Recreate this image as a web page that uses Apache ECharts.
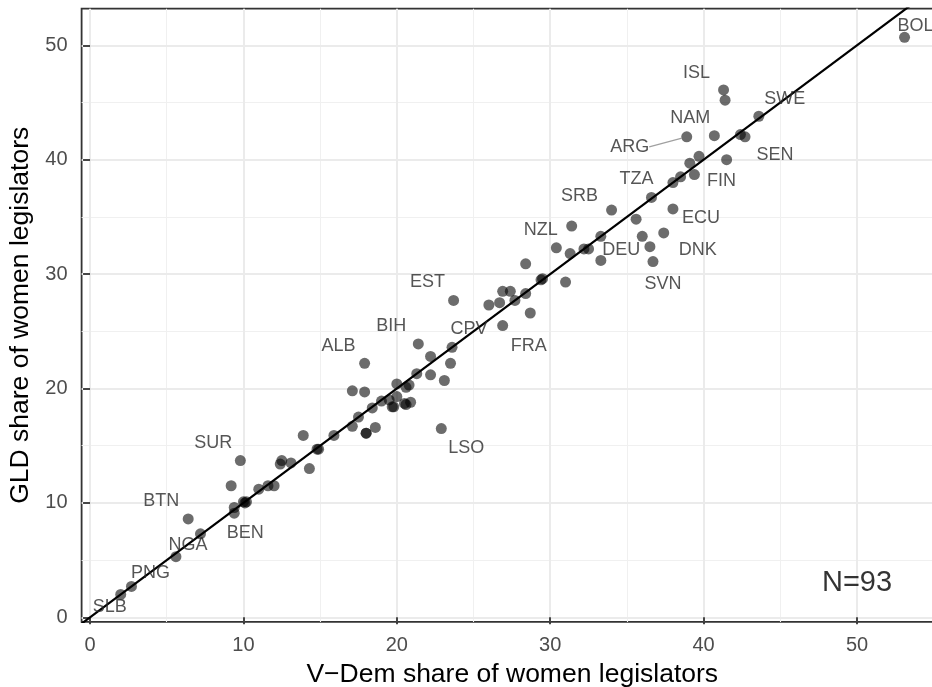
<!DOCTYPE html>
<html>
<head>
<meta charset="utf-8">
<script src="https://cdn.jsdelivr.net/npm/echarts@6/dist/echarts.min.js"></script>
<style>
  html, body { margin: 0; padding: 0; background: #fff; }
  #chart { width: 932px; height: 687px; }
</style>
</head>
<body>
<div id="chart"></div>
<script>
// V-Dem vs GLD share of women legislators
const vdem = [2.0, 2.7, 5.6, 6.4, 7.2, 9.2, 9.4, 9.4, 9.8, 10.0, 10.2, 10.1, 11.0, 11.6, 12.0, 12.4, 12.5, 13.1, 13.9, 14.3,
  14.8, 14.9, 15.9, 17.1, 17.5, 18.0, 18.0, 18.4, 18.6, 17.1, 17.9, 17.9, 19.0, 19.5, 19.7, 19.8, 20.0, 20.0, 20.6, 20.8,
  20.5, 20.6, 20.9, 21.3, 21.4, 22.2, 22.2, 23.1, 22.9, 23.5, 23.6, 23.7, 26.0, 26.7, 26.9, 26.9, 27.4, 27.7, 28.4, 28.7,
  28.4, 29.4, 29.5, 31.0, 30.4, 31.3, 31.4, 32.2, 32.5, 33.3, 33.3, 34.0, 35.6, 36.0, 36.5, 36.7, 37.4, 38.0, 36.6, 38.0,
  38.5, 39.1, 39.7, 39.4, 41.5, 38.9, 40.7, 41.3, 41.4, 43.6, 42.4, 42.7, 53.1]
const gld = [2.0, 2.7, 5.3, 8.6, 7.3, 11.5, 9.1, 9.6, 13.7, 10.1, 10.1, 10.0, 11.2, 11.5, 11.5, 13.4, 13.7, 13.5, 15.9, 13.0,
  14.7, 14.7, 15.9, 16.7, 17.5, 16.1, 16.1, 18.3, 16.6, 19.8, 19.7, 22.2, 18.9, 19.0, 18.4, 18.4, 20.4, 19.3, 20.1, 20.3,
  18.7, 18.6, 18.8, 21.3, 23.9, 22.8, 21.2, 20.7, 16.5, 22.2, 23.6, 27.7, 27.3, 27.5, 28.5, 25.5, 28.5, 27.7, 28.3, 26.6,
  30.9, 29.5, 29.6, 29.3, 32.3, 31.8, 34.2, 32.2, 32.2, 33.3, 31.2, 35.6, 34.8, 33.3, 32.4, 31.1, 33.6, 35.7, 36.7, 38.0,
  38.5, 39.7, 40.3, 38.7, 40.0, 42.0, 42.1, 46.1, 45.2, 43.8, 42.2, 42.0, 50.7]

// labelled countries and which point each belongs to
const labelCodes = ['SLB', 'PNG', 'NGA', 'BTN', 'BEN', 'SUR', 'ALB', 'BIH', 'LSO', 'CPV', 'EST', 'FRA', 'NZL',
  'SRB', 'DEU', 'SVN', 'DNK', 'ECU', 'TZA', 'FIN', 'ARG', 'NAM', 'ISL', 'SWE', 'SEN', 'BOL']
const labelIndex = [0, 1, 2, 3, 6, 8, 31, 44, 48, 50, 51, 55, 66, 71, 73, 75, 76, 77, 78, 84, 85, 86, 87, 89, 91, 92]

const majorTicks = [0, 10, 20, 30, 40, 50]
const minorTicks = [5, 15, 25, 35, 45, 55]

// axis limits (ggplot-style expansion)
const xMin = -0.55, xMax = 55.6
const yMin = -0.4, yMax = 53.2

// label nudges in px (repel-like placement)
const labelNudge = {
  SLB: [-11, 13], PNG: [19, -13], NGA: [12, -12], BTN: [-27, -18], BEN: [11, 20], SUR: [-27, -18],
  ALB: [-26, -17], BIH: [-27, -18], LSO: [25, 19], CPV: [17, -18], EST: [-26, -18], FRA: [26, 20],
  NZL: [-31, 4], SRB: [-32, -14], DEU: [-21, 14], SVN: [10, 23], DNK: [34, 17], ECU: [28, 9],
  TZA: [-15, -18], FIN: [-5, 21], ARG: [-57, 10], NAM: [-24, -18], ISL: [-27, -17], SWE: [26, -17],
  SEN: [30, 18], BOL: [11, -11]
}

const font = '"Liberation Sans", Arial, Helvetica, sans-serif'
const chart = echarts.init(document.getElementById('chart'))

const points = vdem.map((x, i) => [x, gld[i]])
const labelData = labelIndex.map((idx, k) => {
  const item = { value: points[idx], name: labelCodes[k] }
  if (labelCodes[k] === 'ARG') {
    item.labelLine = { show: true, lineStyle: { color: '#a0a0a0', width: 1.2 } }
  }
  return item
})

function gridLines(ticks) {
  return ticks.filter(v => v <= xMax).map(v => ({ xAxis: v }))
    .concat(ticks.filter(v => v <= yMax).map(v => ({ yAxis: v })))
}

const option = {
  animation: false,
  grid: {
    left: 81.6, right: -10.9, top: 8.7, bottom: 65.1,
    outerBoundsMode: 'none',
    show: true, borderColor: '#333', borderWidth: 1.8, backgroundColor: '#fff'
  },
  xAxis: {
    type: 'value', min: xMin, max: xMax,
    splitLine: { show: false },
    axisLine: { show: false },
    axisTick: { show: true, length: 7, customValues: majorTicks, lineStyle: { color: '#333', width: 1.8 } },
    axisLabel: { customValues: majorTicks, color: '#4d4d4d', fontSize: 20, margin: 14, fontFamily: font },
    name: 'V−Dem share of women legislators',
    nameLocation: 'middle', nameGap: 28,
    nameTextStyle: { fontSize: 26.5, color: '#000', fontFamily: font }
  },
  yAxis: {
    type: 'value', min: yMin, max: yMax,
    splitLine: { show: false },
    axisLine: { show: false },
    axisTick: { show: true, length: 7, customValues: majorTicks, lineStyle: { color: '#333', width: 1.8 } },
    axisLabel: { customValues: majorTicks, color: '#4d4d4d', fontSize: 20, margin: 14, fontFamily: font },
    name: 'GLD share of women legislators',
    nameLocation: 'middle', nameGap: 42,
    nameTextStyle: { fontSize: 26.5, color: '#000', fontFamily: font }
  },
  series: [
    {
      type: 'line', data: [], silent: true, z: 0,
      markLine: {
        silent: true, symbol: ['none', 'none'], label: { show: false }, z: 0,
        lineStyle: { color: '#f0f0f0', width: 1.1, type: 'solid' },
        data: gridLines(minorTicks)
      }
    },
    {
      type: 'line', data: [], silent: true, z: 0,
      markLine: {
        silent: true, symbol: ['none', 'none'], label: { show: false }, z: 0,
        lineStyle: { color: '#ebebeb', width: 2, type: 'solid' },
        data: gridLines(majorTicks)
      }
    },
    {
      type: 'scatter', data: points, symbolSize: 11, silent: true, z: 10,
      itemStyle: { color: 'rgba(0,0,0,0.72)' }
    },
    {
      type: 'line', data: [[xMin, xMin], [xMax, xMax]], symbol: 'none', silent: true, z: 11,
      lineStyle: { color: '#000', width: 2.2 }
    },
    {
      type: 'scatter', data: labelData, symbolSize: 10, silent: true, z: 12,
      itemStyle: { color: 'rgba(0,0,0,0)' },
      label: {
        show: true, position: 'inside', formatter: p => p.name,
        fontSize: 18, color: '#2b2b2b', fontFamily: font
      },
      labelLayout: p => {
        const n = labelNudge[labelCodes[p.dataIndex]]
        return { dx: n[0], dy: n[1] }
      }
    },
    {
      type: 'scatter', data: [{ value: [50, 3], name: 'N=' + vdem.length }], symbolSize: 0, silent: true, z: 12,
      label: {
        show: true, position: 'inside', formatter: p => p.name,
        fontSize: 29, color: '#000', fontFamily: font
      }
    }
  ]
}

chart.setOption(option)
</script>
</body>
</html>
